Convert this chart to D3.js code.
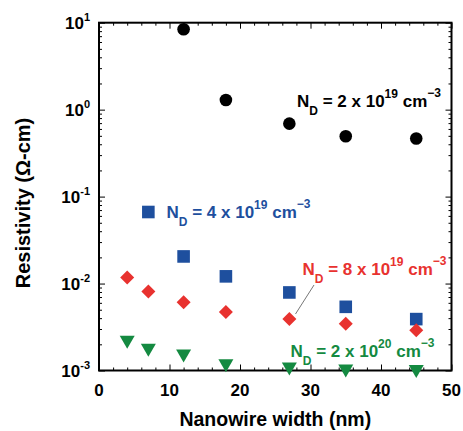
<!DOCTYPE html>
<html>
<head>
<meta charset="utf-8">
<script src="https://cdn.jsdelivr.net/npm/d3@7"></script>
<style>
  html, body { margin: 0; padding: 0; background: #fff; }
  svg { display: block; }
  text { font-family: "Liberation Sans", Arial, sans-serif; font-weight: bold; }
</style>
</head>
<body>
<svg id="chart" width="463" height="431"></svg>
<script>
// ---- data ----
const widths2e19 = [12, 18, 27, 35, 45];
const rho2e19   = [8.4, 1.29, 0.69, 0.495, 0.466];
const widths4e19 = [7, 12, 18, 27, 35, 45];
const rho4e19   = [0.0665, 0.0205, 0.0121, 0.0079, 0.0054, 0.0039];
const widths8e19 = [4, 7, 12, 18, 27, 35, 45];
const rho8e19   = [0.0117, 0.0081, 0.0061, 0.0047, 0.0039, 0.00345, 0.0029];
const widths2e20 = [4, 7, 12, 18, 27, 35, 45];
const rho2e20   = [0.0022, 0.00178, 0.00153, 0.00118, 0.00108, 0.00103, 0.00101];
const xTicks = [0, 10, 20, 30, 40, 50];
const yTickExps = [1, 0, -1, -2, -3];

// ---- layout ----
const svg = d3.select("#chart");
const L = 99, R = 451.5, T = 22.7, B = 370.5;
const x = d3.scaleLinear().domain([0, 50]).range([L, R]);
const y = d3.scaleLog().domain([1e-3, 10]).range([B, T]);

const BLACK = "#000000", BLUE = "#1e4f9e", RED = "#e8322f", GREEN = "#148a41";

// ---- ticks ----
const xMinor = d3.range(0, 51, 2).filter(v => v % 10 !== 0);
const yMajor = yTickExps.map(e => Math.pow(10, e));
const yMinor = [];
for (let e = -3; e < 1; e++) for (let m = 2; m <= 9; m++) yMinor.push(m * Math.pow(10, e));

function axisGroup(axis, tx, ty) {
  const g = svg.append("g").attr("transform", `translate(${tx},${ty})`).call(axis);
  g.select(".domain").remove();
  g.selectAll("line").attr("stroke", "#000").attr("stroke-width", 1);
  g.selectAll("text").remove();
  return g;
}
axisGroup(d3.axisBottom(x).tickValues(xTicks).tickSize(-6), 0, B);
axisGroup(d3.axisBottom(x).tickValues(xMinor).tickSize(-3), 0, B);
axisGroup(d3.axisTop(x).tickValues(xTicks).tickSize(-6), 0, T);
axisGroup(d3.axisTop(x).tickValues(xMinor).tickSize(-3), 0, T);
axisGroup(d3.axisLeft(y).tickValues(yMajor).tickSize(-6), L, 0);
axisGroup(d3.axisLeft(y).tickValues(yMinor).tickSize(-3), L, 0);
axisGroup(d3.axisRight(y).tickValues(yMajor).tickSize(-6), R, 0);
axisGroup(d3.axisRight(y).tickValues(yMinor).tickSize(-3), R, 0);

svg.append("rect").attr("x", L).attr("y", T).attr("width", R - L).attr("height", B - T)
  .attr("fill", "none").attr("stroke", "#000").attr("stroke-width", 2);

svg.selectAll(".xl").data(xTicks).enter().append("text")
  .attr("x", d => x(d)).attr("y", B + 25.5)
  .attr("text-anchor", "middle").attr("font-size", 17).attr("fill", "#000")
  .text(d => d);

yTickExps.forEach(e => {
  const t = svg.append("text").attr("x", 90).attr("y", y(Math.pow(10, e)) + 6)
    .attr("text-anchor", "end").attr("font-size", 17).attr("fill", "#000");
  t.append("tspan").text("10");
  t.append("tspan").attr("font-size", 11).attr("dy", -8).text(String(e));
});

svg.append("text").attr("x", (L + R) / 2).attr("y", 426)
  .attr("text-anchor", "middle").attr("font-size", 19.5).attr("fill", "#000")
  .text("Nanowire width (nm)");
svg.append("text").attr("transform", `translate(30,203) rotate(-90)`)
  .attr("text-anchor", "middle").attr("font-size", 20).attr("fill", "#000")
  .text("Resistivity (Ω-cm)");

// ---- markers ----
const gm = svg.append("g");
gm.selectAll(".c").data(widths2e19.map((w, i) => [w, rho2e19[i]])).enter().append("circle")
  .attr("cx", d => x(d[0])).attr("cy", d => y(d[1])).attr("r", 6.3).attr("fill", BLACK);
gm.selectAll(".s").data(widths4e19.map((w, i) => [w, rho4e19[i]])).enter().append("rect")
  .attr("x", d => x(d[0]) - 6.3).attr("y", d => y(d[1]) - 6.3)
  .attr("width", 12.6).attr("height", 12.6).attr("fill", BLUE);
gm.selectAll(".d").data(widths8e19.map((w, i) => [w, rho8e19[i]])).enter().append("path")
  .attr("d", d => { const cx = x(d[0]), cy = y(d[1]), h = 7;
    return `M${cx},${cy - h}L${cx + h},${cy}L${cx},${cy + h}L${cx - h},${cy}Z`; })
  .attr("fill", RED);
gm.selectAll(".t").data(widths2e20.map((w, i) => [w, rho2e20[i]])).enter().append("path")
  .attr("d", d => { const cx = x(d[0]), cy = y(d[1]);
    return `M${cx - 7.5},${cy - 5}L${cx + 7.5},${cy - 5}L${cx},${cy + 8}Z`; })
  .attr("fill", GREEN);

// ---- annotations ----
function label(px, py, color, val, exp) {
  const t = svg.append("text").attr("x", px).attr("y", py).attr("font-size", 17).attr("fill", color);
  t.append("tspan").text("N");
  t.append("tspan").attr("font-size", 12).attr("dy", 8).text("D");
  t.append("tspan").attr("dy", -8).text(" = " + val + " x 10");
  t.append("tspan").attr("font-size", 12).attr("dy", -9).text(exp);
  t.append("tspan").attr("dy", 9).text(" cm");
  t.append("tspan").attr("font-size", 12).attr("dy", -10).text("\u22123");
}
label(297, 107, BLACK, "2", "19");
label(166.5, 217.5, BLUE, "4", "19");
label(302.5, 275, RED, "8", "19");
label(290.5, 357, GREEN, "2", "20");

svg.append("line").attr("x1", 314).attr("y1", 285).attr("x2", 295.5).attr("y2", 314)
  .attr("stroke", "#777").attr("stroke-width", 1);
</script>
</body>
</html>
